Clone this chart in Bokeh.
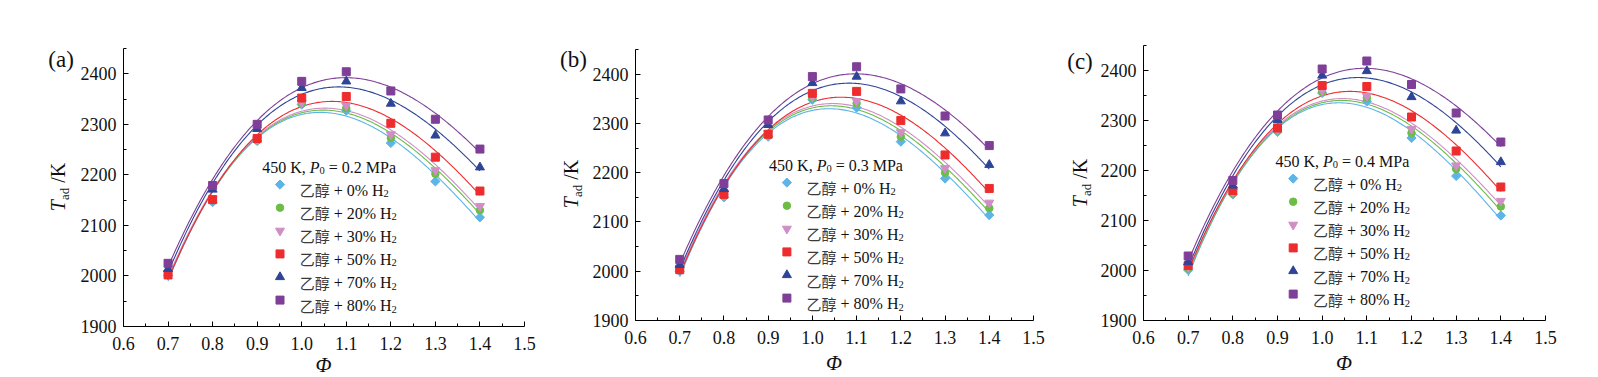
import numpy as np
from bokeh.plotting import figure
from bokeh.layouts import row, column
from bokeh.models import Label, FixedTicker, PrintfTickFormatter, Div
from bokeh.embed import file_html
from bokeh.resources import INLINE

# ---------------- data ----------------
phi = [0.7, 0.8, 0.9, 1.0, 1.1, 1.2, 1.3, 1.4]
h2_labels = ["0%", "20%", "30%", "50%", "70%", "80%"]
pressures = ["0.2", "0.3", "0.4"]
panel_tags = ["(a)", "(b)", "(c)"]

# panel (a) 450 K, 0.2 MPa
a_h0 = [2001, 2146, 2267, 2339, 2327, 2263, 2187, 2116]
a_h20 = [2003, 2150, 2268, 2341, 2332, 2273, 2202, 2130]
a_h30 = [2006, 2153, 2270, 2343, 2337, 2280, 2209, 2138]
a_h50 = [2002, 2151, 2272, 2352, 2355, 2302, 2235, 2168]
a_h70 = [2014, 2171, 2291, 2372, 2385, 2341, 2278, 2215]
a_h80 = [2025, 2179, 2300, 2385, 2404, 2366, 2310, 2251]

# panel (b) 450 K, 0.3 MPa
b_h0 = [2000, 2150, 2273, 2348, 2332, 2263, 2188, 2114]
b_h20 = [2004, 2155, 2276, 2351, 2341, 2273, 2200, 2128]
b_h30 = [2007, 2158, 2280, 2354, 2345, 2282, 2209, 2139]
b_h50 = [2003, 2156, 2278, 2361, 2365, 2306, 2236, 2168]
b_h70 = [2013, 2167, 2297, 2382, 2395, 2345, 2280, 2216]
b_h80 = [2024, 2178, 2307, 2395, 2415, 2370, 2315, 2255]

# panel (c) 450 K, 0.4 MPa
c_h0 = [2001, 2152, 2277, 2355, 2338, 2265, 2189, 2110]
c_h20 = [2004, 2154, 2280, 2357, 2345, 2275, 2203, 2128]
c_h30 = [2007, 2158, 2282, 2360, 2349, 2283, 2210, 2139]
c_h50 = [2010, 2160, 2285, 2370, 2368, 2307, 2239, 2167]
c_h70 = [2017, 2170, 2301, 2390, 2399, 2347, 2280, 2217]
c_h80 = [2029, 2180, 2311, 2403, 2419, 2372, 2315, 2257]

panels_data = [
    [a_h0, a_h20, a_h30, a_h50, a_h70, a_h80],
    [b_h0, b_h20, b_h30, b_h50, b_h70, b_h80],
    [c_h0, c_h20, c_h30, c_h50, c_h70, c_h80],
]

x_ticks = [0.6, 0.7, 0.8, 0.9, 1.0, 1.1, 1.2, 1.3, 1.4, 1.5]
y_ticks = [1900, 2000, 2100, 2200, 2300, 2400]

# ---------------- style ----------------
colors = ["#5db4e8", "#6cbd45", "#d08ec6", "#ee2c2e", "#2e4597", "#7f3f98"]
markers = ["square", "circle", "inverted_triangle", "square", "triangle", "square"]
angles = [np.pi / 4, 0, 0, 0, 0, 0]
msizes = [6.5, 7.5, 9, 8, 9, 8]

SERIF = "Liberation Serif"
CJK = "Noto Sans CJK SC"

# figure geometry
FW = [401, 398, 402]
FH = [278, 271, 275]
BL = [47, 46, 46]
BR = [26, 22, 45]
BT = [40, 41, 37]
BB = [30, 32, 32]
XR = (0.6, 1.5)
YR = (1900, 2450)
STANDOFF_X = [10, 10, 10]
STANDOFF_Y = 7

# side divs (left strip with tag + y title, strip below with x title)
DIV_W = [68, 39, 42]
TAG_XY = [(53.1, 51), (23.4, 51), (25, 52.7)]
YLAB_XY = [(50.2, 178.5), (21.3, 176), (25, 174.5)]
PHI_H = [20, 22, 22]
PHI_Y = [9, 11, 11]

# legend anchors (frame-relative px)
LEG_X = [138.7, 133.6, 131.9]
LEG_Y = [165, 161, 165]

# Times-compatible advance widths (per em)
W = {' ': .25, '+': .564, '%': .833, 'H': .722, 'K': .722, ',': .25, '.': .25,
     '=': .564, 'M': .889, 'P': .556, 'a': .444, 'd': .5, '/': .278, 'T': .611}
for d in "0123456789":
    W[d] = .5


def tw(s, size):
    return sum(W.get(ch, .5) for ch in s) * size


def lab(p, x, y, text, size, font=SERIF, style="normal", align="left",
        baseline="alphabetic", color="#111111"):
    p.add_layout(Label(x=x, y=y, x_units="screen", y_units="screen", text=text,
                       text_font=font, text_font_size=f"{size}px",
                       text_font_style=style, text_align=align,
                       text_baseline=baseline, text_color=color))


def abs_item(x, y, html, size, rotate=False):
    tr = "translate(-50%,-50%)" + (" rotate(-90deg)" if rotate else "")
    return (f'<div style="position:absolute;left:{x}px;top:{y}px;transform:{tr};'
            f'white-space:nowrap;font-family:\'Liberation Serif\',serif;'
            f'font-size:{size}px;line-height:1;color:#111111;">{html}</div>')


def box(w, h, items):
    return (f'<div style="position:relative;width:{w}px;height:{h}px;">'
            + "".join(items) + '</div>')


def make_panel(k):
    p = figure(width=BL[k] + FW[k] + BR[k], height=BT[k] + FH[k] + BB[k],
               x_range=XR, y_range=YR,
               output_backend="svg", toolbar_location=None,
               min_border_left=BL[k], min_border_right=BR[k],
               min_border_top=BT[k], min_border_bottom=BB[k],
               background_fill_color="white", border_fill_color="white")
    p.outline_line_color = None
    p.xgrid.visible = False
    p.ygrid.visible = False

    p.xaxis.ticker = FixedTicker(ticks=x_ticks,
                                 minor_ticks=[t + 0.05 for t in x_ticks[:-1]])
    p.xaxis.formatter = PrintfTickFormatter(format="%.1f")
    p.yaxis.ticker = FixedTicker(ticks=y_ticks,
                                 minor_ticks=[t + 50 for t in y_ticks])
    for ax in (p.xaxis[0], p.yaxis[0]):
        ax.axis_line_color = "#000000"
        ax.axis_line_width = 1
        ax.major_tick_in = 5
        ax.major_tick_out = 0
        ax.minor_tick_in = 3
        ax.minor_tick_out = 0
        ax.major_tick_line_color = "#000000"
        ax.minor_tick_line_color = "#000000"
        ax.major_label_text_font = SERIF
        ax.major_label_text_font_size = "18px"
        ax.major_label_text_color = "#111111"
    p.xaxis.major_label_standoff = STANDOFF_X[k]
    p.yaxis.major_label_standoff = STANDOFF_Y

    # fitted curves (cubic fit of each series)
    xs = np.linspace(phi[0], phi[-1], 200)
    for vals, c in zip(panels_data[k], colors):
        coef = np.polyfit(phi, vals, 3)
        p.line(xs, np.polyval(coef, xs), line_color=c, line_width=1.1)
    for vals, c, m, a, s in zip(panels_data[k], colors, markers, angles, msizes):
        p.scatter(phi, vals, marker=m, size=s, angle=a, fill_color=c, line_color=c)

    # ---- legend (manual, to allow italics / subscripts) ----
    tx, ty = LEG_X[k], LEG_Y[k]
    fs = 16
    sub = 10.5
    base = ty - 5.5
    s1 = "450 K,"
    lab(p, tx, base, s1, fs)
    x = tx + tw(s1, fs) + 0.25 * fs
    lab(p, x, base, "P", fs, style="italic")
    x += 0.611 * fs
    lab(p, x, base - 3.5, "0", sub)
    x += 0.5 * sub + 0.25 * fs
    lab(p, x, base, "= " + pressures[k] + " MPa", fs)

    fs2 = 16
    fcjk = 15
    for i, h in enumerate(h2_labels):
        ry = ty - 23.1 * (i + 1)
        mx = XR[0] + (tx + 17.8) / FW[k] * (XR[1] - XR[0])
        my = YR[0] + ry / FH[k] * (YR[1] - YR[0])
        p.scatter([mx], [my], marker=markers[i], size=msizes[i], angle=angles[i],
                  fill_color=colors[i], line_color=colors[i])
        x0 = tx + 37.5
        rb = ry - 5.5
        lab(p, x0, rb + 0.5, "乙醇", fcjk, font=CJK, color="#3a3a3a")
        x1 = x0 + 2 * fcjk + 0.25 * fs2
        s = "+ " + h + " H"
        lab(p, x1, rb, s, fs2)
        lab(p, x1 + tw(s, fs2), rb - 3.5, "2", sub)

    # ---- left strip: panel tag + y title ----
    ylab_html = ('<i>T</i><span style="font-size:13px;position:relative;top:4px">ad'
                 '</span>&nbsp;/K')
    left = Div(text=box(DIV_W[k], p.height, [
        abs_item(TAG_XY[k][0], TAG_XY[k][1], panel_tags[k], 23),
        abs_item(YLAB_XY[k][0], YLAB_XY[k][1], ylab_html, 20, rotate=True),
    ]), width=DIV_W[k], height=p.height, margin=0)

    # ---- strip below: x title ----
    below = Div(text=box(p.width, PHI_H[k], [
        abs_item(BL[k] + FW[k] / 2, PHI_Y[k], "<i>Φ</i>", 21),
    ]), width=p.width, height=PHI_H[k], margin=0)

    return left, column(p, below, spacing=0, margin=0)


parts = []
for k in range(3):
    parts.extend(make_panel(k))
layout = row(*parts, spacing=0, margin=(8, 0, 0, 8))
open("out.html", "w").write(file_html(layout, INLINE))
